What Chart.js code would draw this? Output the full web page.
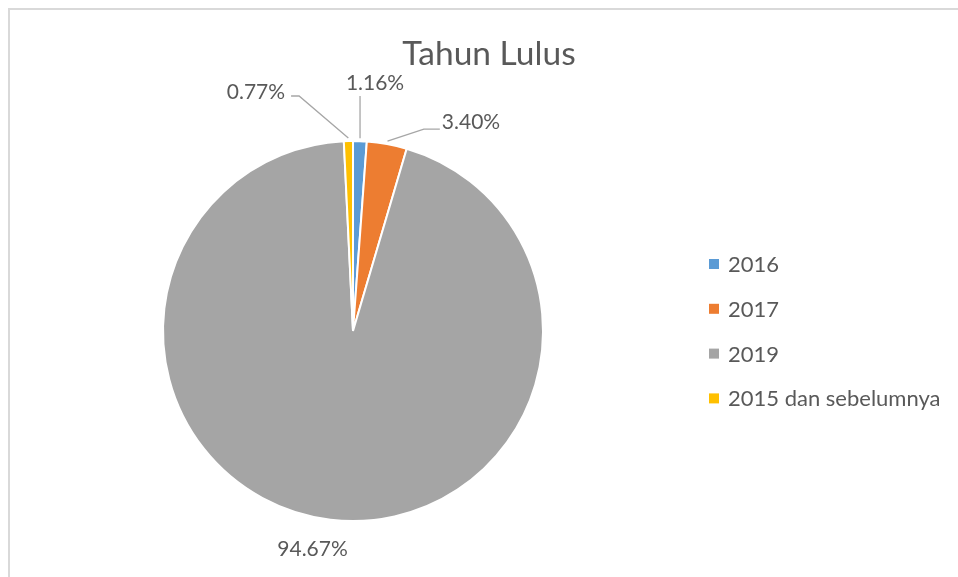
<!DOCTYPE html>
<html>
<head>
<meta charset="utf-8">
<script src="https://cdn.jsdelivr.net/npm/chart.js@4.4.0/dist/chart.umd.min.js"></script>
<style>
    html, body { margin: 0; padding: 0; background: #fff; overflow: hidden; }
    #frame { position: absolute; left: 8px; top: 8px; width: 1000px; height: 700px;
             border-left: 2px solid #d9d9d9; border-top: 2px solid #d9d9d9; }
    #wrap { position: absolute; left: 0; top: 0; width: 958px; height: 577px; }
</style>
</head>
<body>
<div id="frame"></div>
<div id="wrap"><canvas id="tahunLulusChart"></canvas></div>
<script>
const chartTitle = 'Tahun Lulus';
const categories = ['2016', '2017', '2019', '2015 dan sebelumnya'];
const percentages = [1.16, 3.40, 94.67, 0.77];
const sliceColors = ['#5B9BD5', '#ED7D31', '#A5A5A5', '#FFC000'];

const FONT = 'Lato, "Open Sans", sans-serif';
const TEXT_COLOR = '#595959';

// title, legend and data labels drawn by hand, Excel style
const excelDecor = {
    id: 'excelDecor',
    afterDraw(chart, args, opts) {
        const ctx = chart.ctx;
        const meta = chart.getDatasetMeta(0);
        ctx.save();

        // title
        ctx.fillStyle = TEXT_COLOR;
        ctx.font = opts.titleSize + 'px ' + FONT;
        ctx.textAlign = 'center';
        ctx.textBaseline = 'middle';
        ctx.fillText(chartTitle, opts.titleX, opts.titleY);

        // legend
        ctx.font = opts.legendSize + 'px ' + FONT;
        ctx.textAlign = 'left';
        categories.forEach((name, i) => {
            const y = opts.legendY + i * opts.legendStep;
            ctx.fillStyle = sliceColors[i];
            ctx.fillRect(opts.legendX, y - 5, 10, 10);
            ctx.fillStyle = TEXT_COLOR;
            ctx.fillText(name, opts.legendX + 19, y + 1);
        });

        // data labels + leader lines
        ctx.font = opts.labelSize + 'px ' + FONT;
        ctx.textAlign = 'center';
        meta.data.forEach((arc, i) => {
            const R = arc.outerRadius;
            const mid = (arc.startAngle + arc.endAngle) / 2;
            const px = arc.x + Math.cos(mid) * (R + 3);
            const py = arc.y + Math.sin(mid) * (R + 3);
            const off = opts.labelOffsets[i];
            const lx = arc.x + off[0] * R;
            const ly = arc.y + off[1] * R;
            const text = percentages[i].toFixed(2) + '%';
            const w = ctx.measureText(text).width;
            const h = opts.labelSize;

            if (off[2]) {
                ctx.strokeStyle = '#A6A6A6';
                ctx.lineWidth = 1.3;
                ctx.beginPath();
                if (px > lx - w / 2 && px < lx + w / 2) {
                    ctx.moveTo(px, ly + h / 2 + 2);
                    ctx.lineTo(px, py);
                } else if (px > lx) {
                    const ax = lx + w / 2 + 6;
                    ctx.moveTo(ax, ly + 4);
                    ctx.lineTo(ax + 8, ly + 4);
                    ctx.lineTo(px, py);
                } else {
                    const ax = lx - w / 2 - 2;
                    ctx.moveTo(ax, ly + 6.5);
                    ctx.lineTo(ax - 16, ly + 6.5);
                    ctx.lineTo(px, py);
                }
                ctx.stroke();
            }

            ctx.fillStyle = TEXT_COLOR;
            ctx.fillText(text, lx, ly);
        });
        ctx.restore();
    }
};

const ctx = document.getElementById('tahunLulusChart').getContext('2d');
new Chart(ctx, {
    type: 'pie',
    data: {
        labels: categories,
        datasets: [{
            data: percentages,
            backgroundColor: sliceColors,
            borderColor: '#ffffff',
            borderWidth: 2
        }]
    },
    options: {
        responsive: true,
        maintainAspectRatio: false,
        animation: false,
        layout: {
            padding: { left: 162, top: 140, right: 414, bottom: 55 }
        },
        plugins: {
            legend: { display: false },
            title: { display: false },
            tooltip: { enabled: false },
            excelDecor: {
                titleSize: 33.5, titleX: 489, titleY: 54,
                legendSize: 22, legendX: 709, legendY: 264, legendStep: 44.8,
                labelSize: 21,
                // [dx, dy] in radii from pie centre, draw leader?
                labelOffsets: [
                    [0.116, -1.302, true],
                    [0.621, -1.097, true],
                    [-0.213, 1.147, false],
                    [-0.511, -1.258, true]
                ]
            }
        }
    },
    plugins: [excelDecor]
});
</script>
</body>
</html>
